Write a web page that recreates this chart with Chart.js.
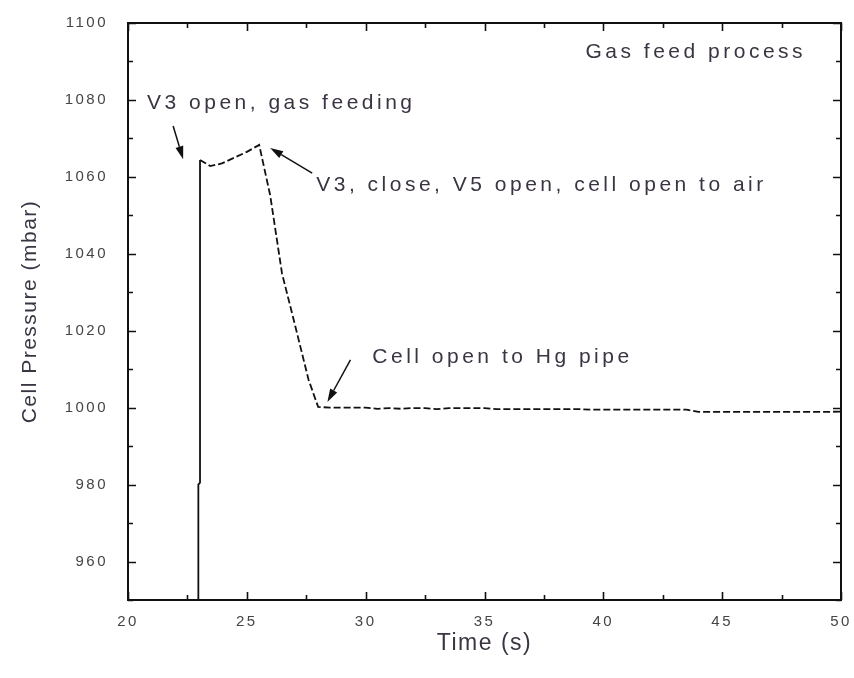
<!DOCTYPE html>
<html>
<head>
<meta charset="utf-8">
<script src="https://cdn.jsdelivr.net/npm/chart.js@4.4.1/dist/chart.umd.min.js"></script>
<style>
  html, body { margin: 0; padding: 0; background: #ffffff; }
  #wrap { width: 854px; height: 678px; }
</style>
</head>
<body>
<div id="wrap"><canvas id="c" width="854" height="678"></canvas></div>
<script>
// Cell pressure during the gas feed process
const timeS = [
  22.96, 22.96, 23.03, 23.03, 23.46, 23.95, 24.51, 25.00, 25.52,
  25.98, 26.48, 27.01, 27.60, 28.00,
  28.5, 29.0, 29.5, 30.0, 30.5, 31.0, 31.5, 32.0, 32.5, 33.0, 33.5,
  34.0, 34.5, 35.0, 35.5, 36.0, 36.5, 37.0, 37.5, 38.0, 38.5, 39.0,
  39.5, 40.0, 40.5, 41.0, 41.5, 42.0, 42.5, 43.0, 43.5, 44.0, 44.5,
  45.0, 45.5, 46.0, 46.5, 47.0, 47.5, 48.0, 48.5, 49.0, 49.5, 50.0
];
const pressureMbar = [
  940.0, 980.0, 980.5, 1064.4, 1062.8, 1063.5, 1065.1, 1066.5, 1068.3,
  1055.3, 1034.9, 1021.9, 1007.2, 1000.2,
  1000.0, 1000.0, 1000.0, 1000.0, 999.7, 999.9, 999.7, 999.9, 999.9, 999.6, 999.9,
  999.9, 999.9, 999.9, 999.6, 999.6, 999.6, 999.6, 999.6, 999.6, 999.6, 999.6,
  999.5, 999.5, 999.5, 999.5, 999.5, 999.5, 999.5, 999.5, 999.5, 998.9, 998.9,
  998.9, 998.9, 998.9, 998.9, 998.9, 998.9, 998.9, 998.9, 998.9, 998.9, 999.0
];

// Axis ticks and titles
const xTickValues = [20, 25, 30, 35, 40, 45, 50];
const yTickValues = [960, 980, 1000, 1020, 1040, 1060, 1080, 1100];
const xTitle = 'Time (s)';
const yTitle = 'Cell Pressure (mbar)';

// Event notes: text, anchor (time, pressure) of the text's left/middle point
const noteText = ["Gas feed process", "V3 open, gas feeding",
                  "V3, close, V5 open, cell open to air", "Cell open to Hg pipe"];
const noteTime = [39.25, 20.80, 27.92, 30.28];
const notePressure = [1092.3, 1079.2, 1057.8, 1013.2];

// Arrows: from (tail) to (tip), in time / pressure
const arrowFromTime = [21.90, 27.75, 29.36];
const arrowFromPressure = [1073.2, 1061.0, 1012.4];
const arrowToTime = [22.32, 25.98, 28.39];
const arrowToPressure = [1064.6, 1067.5, 1001.5];

const points = timeS.map((t, i) => ({ x: t, y: pressureMbar[i] }));

const FONT = '"Liberation Sans", Arial, sans-serif';
const INK = '#3b3442';

// Frame with inward major/minor ticks on all four sides, axis titles, notes and arrows
const framePlugin = {
  id: 'frame',
  beforeDraw(chart) {
    // spacing used by the tick labels
    chart.ctx.letterSpacing = '2.5px';
  },
  afterDatasetsDraw(chart) {
    const { ctx, chartArea: a, scales: { x, y } } = chart;
    ctx.save();
    ctx.strokeStyle = '#111111';
    ctx.lineWidth = 2;
    ctx.strokeRect(a.left, a.top, a.right - a.left, a.bottom - a.top);
    ctx.lineWidth = 1.6;
    const major = 8, minor = 5;
    ctx.beginPath();
    for (let v = 20; v <= 50.001; v += 2.5) {
      const px = Math.round(x.getPixelForValue(v)) + 0.5;
      const len = (Math.abs(v % 5) < 1e-6) ? major : minor;
      ctx.moveTo(px, a.bottom); ctx.lineTo(px, a.bottom - len);
      ctx.moveTo(px, a.top); ctx.lineTo(px, a.top + len);
    }
    for (let v = 950; v <= 1100.001; v += 10) {
      const py = Math.round(y.getPixelForValue(v)) + 0.5;
      const len = (Math.abs(v % 20) < 1e-6) ? major : minor;
      ctx.moveTo(a.left, py); ctx.lineTo(a.left + len, py);
      ctx.moveTo(a.right, py); ctx.lineTo(a.right - len, py);
    }
    ctx.stroke();
    ctx.restore();
  },
  afterDraw(chart) {
    const { ctx, chartArea: a, scales: { x, y } } = chart;
    ctx.save();
    ctx.fillStyle = INK;
    ctx.textBaseline = 'middle';

    // axis titles
    ctx.letterSpacing = '1.5px';
    ctx.textAlign = 'center';
    ctx.font = '23px ' + FONT;
    ctx.fillText(xTitle, (a.left + a.right) / 2, a.bottom + 44);
    ctx.save();
    ctx.translate(30, (a.top + a.bottom) / 2);
    ctx.rotate(-Math.PI / 2);
    ctx.font = '21px ' + FONT;
    ctx.fillText(yTitle, 0, 0);
    ctx.restore();

    // notes
    ctx.font = '21px ' + FONT;
    ctx.letterSpacing = '3.5px';
    ctx.textAlign = 'left';
    noteText.forEach((txt, i) => {
      ctx.fillText(txt, x.getPixelForValue(noteTime[i]), y.getPixelForValue(notePressure[i]));
    });

    // arrows
    ctx.strokeStyle = '#111111';
    ctx.fillStyle = '#111111';
    ctx.lineWidth = 1.5;
    arrowFromTime.forEach((t, i) => {
      const x0 = x.getPixelForValue(t), y0 = y.getPixelForValue(arrowFromPressure[i]);
      const x1 = x.getPixelForValue(arrowToTime[i]), y1 = y.getPixelForValue(arrowToPressure[i]);
      const ang = Math.atan2(y1 - y0, x1 - x0);
      const hl = 13, hw = 4;
      const bx = x1 - hl * Math.cos(ang), by = y1 - hl * Math.sin(ang);
      ctx.beginPath();
      ctx.moveTo(x0, y0); ctx.lineTo(bx, by);
      ctx.stroke();
      ctx.beginPath();
      ctx.moveTo(x1, y1);
      ctx.lineTo(bx + hw * Math.sin(ang), by - hw * Math.cos(ang));
      ctx.lineTo(bx - hw * Math.sin(ang), by + hw * Math.cos(ang));
      ctx.closePath();
      ctx.fill();
    });
    ctx.restore();
  }
};

new Chart(document.getElementById('c'), {
  type: 'line',
  data: {
    datasets: [{
      data: points,
      borderColor: '#111111',
      borderWidth: 1.8,
      pointRadius: 0,
      tension: 0,
      fill: false,
      segment: {
        borderDash: ctx => Math.abs(ctx.p1.parsed.x - ctx.p0.parsed.x) < 0.1 ? [] : [7, 3]
      }
    }]
  },
  options: {
    responsive: false,
    animation: false,
    events: [],
    layout: { padding: { top: 23, right: 13, left: 0, bottom: 0 } },
    plugins: { legend: { display: false }, tooltip: { enabled: false } },
    scales: {
      x: {
        type: 'linear',
        min: 20, max: 50,
        afterBuildTicks: s => { s.ticks = xTickValues.map(v => ({ value: v })); },
        afterFit: s => { s.height = 78; s.paddingLeft = 0; s.paddingRight = 0; },
        grid: { display: false },
        border: { display: false },
        ticks: {
          color: '#454545',
          font: { family: FONT, size: 15 },
          padding: 5,
          maxRotation: 0,
          autoSkip: false,
          callback: v => String(v)
        },
        title: { display: false }
      },
      y: {
        type: 'linear',
        min: 950, max: 1100,
        afterBuildTicks: s => { s.ticks = yTickValues.map(v => ({ value: v })); },
        afterFit: s => { s.width = 128; s.paddingTop = 0; s.paddingBottom = 0; },
        grid: { display: false },
        border: { display: false },
        ticks: {
          color: '#454545',
          font: { family: FONT, size: 15 },
          padding: 12,
          autoSkip: false,
          callback: v => String(v)
        },
        title: { display: false }
      }
    }
  },
  plugins: [framePlugin]
});
</script>
</body>
</html>
